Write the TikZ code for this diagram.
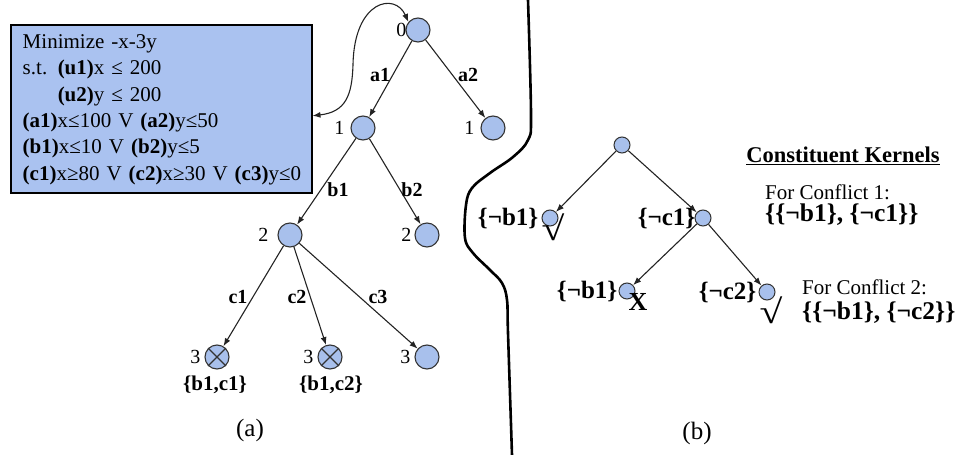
\documentclass[tikz,border=0pt]{standalone}
\usepackage{fontspec}
\setmainfont{Liberation Serif}
\usetikzlibrary{arrows.meta}
\definecolor{boxblue}{RGB}{170,194,240}
\definecolor{nodeblue}{RGB}{168,192,236}
\definecolor{edgegray}{RGB}{35,35,35}
\begin{document}
\begin{tikzpicture}[x=1pt,y=-1pt,
  tn/.style={circle,draw=black!80,line width=1.1pt,fill=nodeblue,minimum size=24pt,inner sep=0pt},
  sn/.style={circle,draw=black!80,line width=1pt,fill=nodeblue,minimum size=16pt,inner sep=0pt},
  arr/.style={draw=edgegray,line width=1.1pt,-{Latex[length=8pt,width=6pt]}},
  el/.style={font=\fontsize{20}{24}\selectfont\bfseries,inner sep=0pt},
  nl/.style={font=\fontsize{20}{24}\selectfont,inner sep=0pt,anchor=east},
  setl/.style={font=\fontsize{21}{24}\selectfont\bfseries,inner sep=0pt},
  bl/.style={font=\fontsize{25}{28}\selectfont\bfseries,inner sep=0pt,anchor=east},
  txt/.style={font=\fontsize{21}{24}\selectfont,inner sep=0pt,anchor=west},
  kset/.style={font=\fontsize{25.5}{28}\selectfont\bfseries,inner sep=0pt,anchor=west},
  markt/.style={font=\fontsize{26}{28}\selectfont\bfseries,inner sep=0pt},
  captxt/.style={font=\fontsize{25}{28}\selectfont,inner sep=0pt},
  crossline/.style={draw=black!80,line width=1.1pt}
]
\useasboundingbox (0,0) rectangle (961,455);

% constraint box
\node[draw=black,line width=1.5pt,fill=boxblue,anchor=north west,
      minimum width=301pt,minimum height=168pt,inner sep=0pt] (box) at (10,24) {};
\node[text width=277pt,align=left,inner sep=0pt,
      font=\fontsize{21}{26.3}\selectfont] (boxtext) at ([yshift=-1pt]box.center)
 {Minimize -x-3y\\
  s.t. \textbf{(u1)}x ≤ 200\\
  \phantom{s.t. }\textbf{(u2)}y ≤ 200\\
  \textbf{(a1)}x≤100 V \textbf{(a2)}y≤50\\
  \textbf{(b1)}x≤10 V \textbf{(b2)}y≤5\\
  \mbox{\textbf{(c1)}x≥80 V \textbf{(c2)}x≥30 V \textbf{(c3)}y≤0}};

% tree (a)
\node[tn] (n0) at (418,30) {};
\node[tn] (n1L) at (363,128) {};
\node[tn] (n1R) at (493,128) {};
\node[tn] (n2L) at (290,235) {};
\node[tn] (n2R) at (427,235) {};
\node[tn] (n3a) at (217,357) {};
\node[tn] (n3b) at (330,357) {};
\node[tn] (n3c) at (427,357) {};
\draw[crossline] (n3a.north west) -- (n3a.south east) (n3a.north east) -- (n3a.south west);
\draw[crossline] (n3b.north west) -- (n3b.south east) (n3b.north east) -- (n3b.south west);

\node[nl] (l0) at ([xshift=1pt]n0.west) {0};
\node[nl] (l1L) at ([xshift=-6pt]n1L.west) {1};
\node[nl] (l1R) at ([xshift=-6pt]n1R.west) {1};
\node[nl] (l2L) at ([xshift=-9pt]n2L.west) {2};
\node[nl] (l2R) at ([xshift=-3pt]n2R.west) {2};
\node[nl] (l3a) at ([xshift=-4pt]n3a.west) {3};
\node[nl] (l3b) at ([xshift=-4pt]n3b.west) {3};
\node[nl] (l3c) at ([xshift=-4pt]n3c.west) {3};

\draw[arr] (n0) -- (n1L);
\draw[arr] (n0) -- (n1R);
\draw[arr] (n1L) -- (n2L);
\draw[arr] (n1L) -- (n2R);
\draw[arr] (n2L) -- (n3a);
\draw[arr] (n2L) -- (n3b);
\draw[arr] (n2L) -- (n3c);

\node[el] (ea1) at (380,75) {a1};
\node[el] (ea2) at (468,75) {a2};
\node[el] (eb1) at (338,190) {b1};
\node[el] (eb2) at (412,190) {b2};
\node[el] (ec1) at (238,297) {c1};
\node[el] (ec2) at (297,297) {c2};
\node[el] (ec3) at (378,297) {c3};

\node[setl] (s1) at (215,385) {\{b1,c1\}};
\node[setl] (s2) at (331,385) {\{b1,c2\}};

\draw[{Latex[length=8pt,width=6pt]}-{Latex[length=8pt,width=6pt]},draw=edgegray,line width=1.1pt]
  ([yshift=-7pt]box.east) .. controls (346,112) and (352,95) .. (353,65)
  .. controls (354,0) and (395,-8) .. (n0.140);

\node[captxt] (capa) at (250,430) {(a)};

% dividing line
\draw[line width=2.6pt,line join=round] plot[smooth,tension=0.6] coordinates
 {(528,0) (531,115) (528,140) (513,157) (490,173) (472,188) (466,205) (465,238)
  (473,253) (490,270) (502,283) (507,300) (508,333) (512,455)};

% tree (b)
\node[sn] (r) at (622,145) {};
\node[sn] (bL) at (550,218) {};
\node[sn] (bR) at (703,218) {};
\node[sn] (bRL) at (627,291) {};
\node[sn] (bRR) at (767,292) {};

\draw[arr] (r) -- (bL);
\draw[arr] (r) -- (bR);
\draw[arr] (bR) -- (bRL);
\draw[arr] (bR) -- (bRR);

\node[bl] (lbL) at ([xshift=-3pt]bL.west) {\{¬b1\}};
\node[bl] (lbR) at ([xshift=1pt]bR.west) {\{¬c1\}};
\node[bl] (lbRL) at ([xshift=-1pt]bRL.west) {\{¬b1\}};
\node[bl] (lbRR) at ([xshift=-2pt]bRR.west) {\{¬c2\}};

\node[markt] (ck1) at (553,227) {\scalebox{1.6}[1.3]{√}};
\node[markt] (xm) at (638,302) {X};
\node[markt] (ck2) at (771,310) {\scalebox{1.6}[1.3]{√}};

\node[captxt] (capb) at (697,433) {(b)};

% kernels
\node[font=\fontsize{22.5}{26}\selectfont\bfseries,inner sep=0pt] (kt) at (843,156) {\underline{Constituent Kernels}};
\node[txt] (fc1) at (765,192) {For Conflict 1:};
\node[kset] (k1) at (765,215) {\{\{¬b1\}, \{¬c1\}\}};
\node[txt] (fc2) at (802,287) {For Conflict 2:};
\node[kset] (k2) at (802,313) {\{\{¬b1\}, \{¬c2\}\}};
\end{tikzpicture}
\end{document}
